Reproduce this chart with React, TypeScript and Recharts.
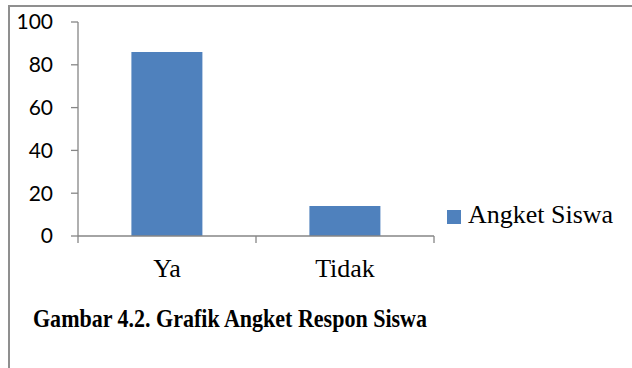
import React from 'react';
import { BarChart, Bar, XAxis, YAxis, Legend } from 'recharts';

const categories = ['Ya', 'Tidak'];
const values = [86, 14];
const yTicks = [0, 20, 40, 60, 80, 100];
const seriesName = 'Angket Siswa';
const captionText = 'Gambar 4.2. Grafik Angket Respon Siswa';

const data = categories.map((c, i) => ({ name: c, value: values[i] }));

const AXIS = '#868686';
const BAR = '#4F81BD';
const SERIF = '"Liberation Serif", "Times New Roman", serif';

const XTick = (props: any) => {
  const { x, y, payload, index } = props;
  const off = payload && typeof payload.offset === 'number' ? payload.offset : 0;
  const axisY = y - 22;
  const last = index === categories.length - 1;
  return (
    <g>
      <line x1={x - off} x2={x - off} y1={axisY} y2={axisY + 7} stroke={AXIS} strokeWidth={1.3} />
      {last && <line x1={x + off} x2={x + off} y1={axisY} y2={axisY + 7} stroke={AXIS} strokeWidth={1.3} />}
      <text x={x} y={y + 19} textAnchor="middle" fontFamily={SERIF} fontSize={26} fill="#000">
        {payload.value}
      </text>
    </g>
  );
};

const LegendContent = () => (
  <div style={{ position: 'relative', height: 30, width: 180 }}>
    <span style={{ position: 'absolute', left: 0, top: 10, width: 14, height: 14, background: BAR }} />
    <span
      style={{
        position: 'absolute',
        left: 21,
        top: 0,
        fontFamily: SERIF,
        fontSize: 26,
        lineHeight: '30px',
        color: '#000',
        whiteSpace: 'nowrap',
      }}
    >
      {seriesName}
    </span>
  </div>
);

export default function App() {
  return (
    <div style={{ position: 'absolute', left: 0, top: 0, width: 632, height: 368, background: '#fff', overflow: 'hidden' }}>
      <div
        style={{
          position: 'absolute',
          left: 8,
          top: 5,
          width: 630,
          height: 370,
          borderTop: '2px solid #8f8f8f',
          borderLeft: '2px solid #8f8f8f',
        }}
      />
      <BarChart
        width={632}
        height={368}
        data={data}
        margin={{ top: 22, right: 198, bottom: 92, left: 18 }}
        barCategoryGap="30%"
        style={{ position: 'absolute', left: 0, top: 0 }}
      >
        <XAxis
          dataKey="name"
          type="category"
          height={40}
          tickSize={0}
          tickMargin={22}
          tickLine={false}
          axisLine={{ stroke: AXIS, strokeWidth: 1.3 }}
          tick={<XTick />}
          interval={0}
        />
        <YAxis
          type="number"
          domain={[0, 100]}
          ticks={yTicks}
          width={60}
          tickSize={7}
          tickMargin={18}
          axisLine={{ stroke: AXIS, strokeWidth: 1.3 }}
          tickLine={{ stroke: AXIS, strokeWidth: 1.3 }}
          tick={{ fill: '#000', fontSize: 21, fontFamily: 'Lato, "Open Sans", sans-serif' }}
          interval={0}
        />
        <Legend
          layout="vertical"
          align="center"
          verticalAlign="middle"
          content={<LegendContent />}
          wrapperStyle={{ position: 'absolute', left: 447, top: 200, width: 180, height: 30 }}
        />
        <Bar dataKey="value" name={seriesName} fill={BAR} isAnimationActive={false} />
      </BarChart>
      <svg width={632} height={368} style={{ position: 'absolute', left: 0, top: 0, pointerEvents: 'none' }}>
        <text
          x={33}
          y={327}
          fontFamily={SERIF}
          fontWeight="bold"
          fontSize={26}
          textLength={394}
          lengthAdjust="spacingAndGlyphs"
          fill="#000"
        >
          {captionText}
        </text>
      </svg>
    </div>
  );
}
